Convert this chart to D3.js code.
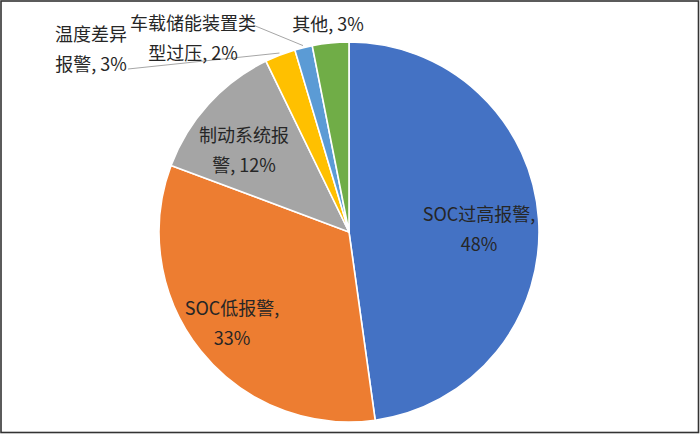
<!DOCTYPE html>
<meta charset="utf-8">
<script src="https://d3js.org/d3.v7.min.js"></script>
<style>
  html, body { margin: 0; padding: 0; background: #fff; }
  svg text { font-family: "Noto Sans CJK SC", "Noto Sans", sans-serif; }
</style>
<div id="chart"></div>
<script>
// data (share of alarms, %)
const categories = ["SOC过高报警", "SOC低报警", "制动系统报警", "温度差异报警", "车载储能装置类型过压", "其他"];
const values = [47.8, 32.9, 12.1, 2.6, 1.5, 3.1];
const colors = ["#4472C4", "#ED7D31", "#A5A5A5", "#FFC000", "#5B9BD5", "#70AD47"];

const W = 700, H = 434;
const cx = 349, cy = 232, R = 190;

// label layout: where each label wraps, and where it sits (centre x, first line y)
const wrapAt = [8, 7, 5, 4, 7, null];
const place = [
  {x: 479, y: 213},
  {x: 232, y: 307},
  {x: 244, y: 134},
  {x: 91, y: 33, lead: [128, 69]},
  {x: 193, y: 22, lead: [253, 25]},
  {x: 328, y: 23}
];
const lineGap = 30;

const svg = d3.select("#chart").append("svg")
  .attr("width", W).attr("height", H);

// frame
svg.append("rect")
  .attr("x", 1).attr("y", 1).attr("width", W - 2.5).attr("height", H - 2.5)
  .attr("fill", "#fff").attr("stroke", "#333").attr("stroke-width", 1.6);

const total = d3.sum(values);
const rows = categories.map((c, i) => ({name: c, value: values[i], i}));

const pie = d3.pie().sort(null).value(d => d.value);
const arcs = pie(rows);
const arc = d3.arc().innerRadius(0).outerRadius(R);

const g = svg.append("g").attr("transform", `translate(${cx},${cy})`);

g.selectAll("path")
  .data(arcs)
  .join("path")
    .attr("d", arc)
    .attr("fill", d => colors[d.data.i])
    .attr("stroke", "#fff")
    .attr("stroke-width", 1.6)
    .attr("stroke-linejoin", "round");

function labelLines(d) {
  const full = `${d.data.name}, ${Math.round(d.data.value / total * 100)}%`;
  const k = wrapAt[d.data.i];
  if (k == null) return [full];
  return [full.slice(0, k).trim(), full.slice(k).trim()];
}

// leader lines for the small slices
const leadArc = d3.arc().innerRadius(R + 2).outerRadius(R + 2);
g.selectAll("line.lead")
  .data(arcs.filter(d => place[d.data.i].lead))
  .join("line")
    .attr("class", "lead")
    .attr("x1", d => place[d.data.i].lead[0] - cx)
    .attr("y1", d => place[d.data.i].lead[1] - cy)
    .attr("x2", d => leadArc.centroid(d)[0])
    .attr("y2", d => leadArc.centroid(d)[1])
    .attr("stroke", "#A6A6A6")
    .attr("stroke-width", 1);

// labels
g.selectAll("text.lab")
  .data(arcs)
  .join("text")
    .attr("class", "lab")
    .attr("text-anchor", "middle")
    .attr("font-size", 18)
    .attr("fill", "#262626")
    .each(function(d) {
      const p = place[d.data.i];
      d3.select(this).selectAll("tspan")
        .data(labelLines(d))
        .join("tspan")
          .attr("x", p.x - cx)
          .attr("y", (t, j) => p.y - cy + j * lineGap)
          .attr("dominant-baseline", "central")
          .text(t => t);
    });
</script>
